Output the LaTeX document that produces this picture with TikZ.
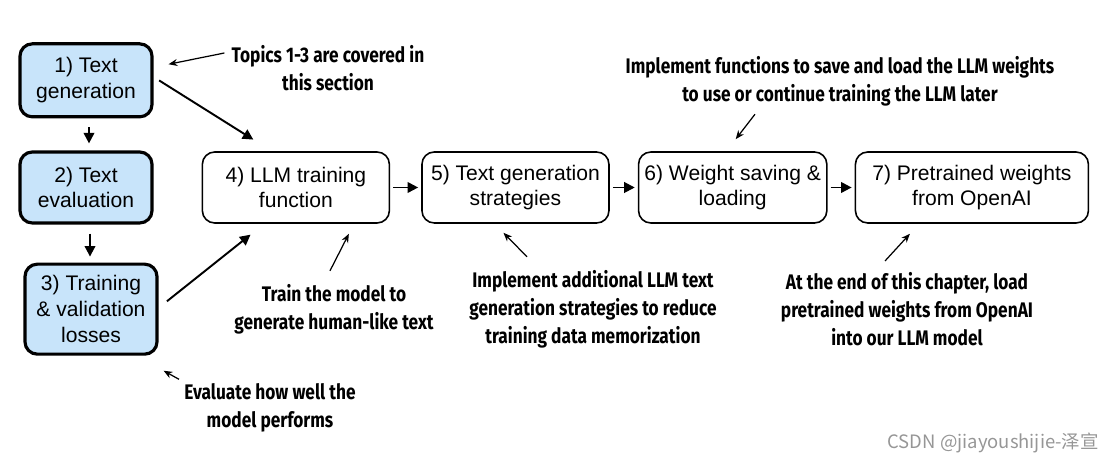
\documentclass[tikz,border=0pt]{standalone}
\usepackage{fontspec}
\setmainfont{Liberation Sans}
\newfontfamily\notefont[FakeStretch=0.82]{Fira Sans}
\newfontfamily\cjk{Noto Sans CJK SC}
\usepackage{xcolor}
\usetikzlibrary{arrows.meta,shapes,positioning}

\definecolor{topicblue}{RGB}{200,228,250}
\definecolor{markgray}{RGB}{150,150,150}

\begin{document}
\begin{tikzpicture}[
  > = {Triangle[length=6pt,width=6pt]},
  topic/.style = {rectangle, draw, line width=1.8pt, fill=topicblue,
                  rounded corners=7pt, align=center, minimum width=2.64cm,
                  font=\fontsize{12}{14.7}\selectfont},
  task/.style  = {rectangle, draw, line width=0.9pt, rounded corners=7pt,
                  align=center, minimum width=3.74cm, minimum height=1.42cm,
                  font=\fontsize{12}{14.7}\selectfont},
  note/.style  = {align=center, inner sep=0pt,
                  font=\notefont\bfseries\fontsize{12}{15.9}\selectfont},
  flow/.style  = {->, line width=1.1pt, shorten <=0.06cm, shorten >=0.06cm},
  pointer/.style = {->, line width=0.7pt,
                    >={Stealth[length=5pt,width=4pt]}}
]
\useasboundingbox (0,0) rectangle (22.4,-9.28);

% ───────── topics of this section ─────────
\node[topic, minimum height=1.42cm] (eval) at (1.72,-3.75) {2) Text\\evaluation};
\node[topic, minimum height=1.46cm, above=0.64cm of eval] (gen) {1) Text\\generation};
\node[topic, minimum height=1.80cm, below=0.76cm of eval, xshift=0.1cm] (loss)
  {3) Training\\\& validation\\losses};

% ───────── main row ─────────
\node[task, right=0.96cm of eval]   (train)   {4) LLM training\\function};
\node[task, right=0.62cm of train]  (strat)   {5) Text generation\\strategies};
\node[task, right=0.56cm of strat]  (save)    {6) Weight saving \&\\loading};
\node[task, right=0.54cm of save, minimum width=4.66cm] (openai)
  {7) Pretrained weights\\from OpenAI};

% ───────── notes ─────────
\node[note] (topics)  at (6.56,-1.36) {Topics 1-3 are covered in\\this section};
\node[note] (human)   at (6.68,-6.18) {Train the model to\\generate human-like text};
\node[note] (perform) at (5.40,-8.16) {Evaluate how well the\\model performs};
\node[note] (memo)    at (11.86,-6.18) {Implement additional LLM text\\generation strategies to reduce\\training data memorization};
\node[note] (later)   at (16.80,-1.62) {Implement functions to save and load the LLM weights\\to use or continue training the LLM later};
\node[note] (load)    at (18.14,-6.18) {At the end of this chapter, load\\pretrained weights from OpenAI\\into our LLM model};

\node[anchor=east, text=markgray, font=\cjk\fontsize{10.5}{12}\selectfont]
  (mark) at (22.1,-8.86) {CSDN @jiayoushijie-泽宣};

% ───────── arrows ──────────
\draw[flow, shorten <=0.18cm, shorten >=0.14cm] ([xshift=0.06cm]gen.south) -- ([xshift=0.06cm]gen.south |- eval.north);
\draw[flow, shorten <=0.18cm, shorten >=0.12cm] ([xshift=0.08cm]eval.south) -- ([xshift=0.08cm]eval.south |- loss.north);

\draw[flow] ([shift={(0.06,0.03)}]gen.east) -- ([shift={(-0.8,0.2)}]train.north);
\draw[flow] ([shift={(0.12,0.12)}]loss.east) -- ([shift={(-0.86,-0.18)}]train.south);

\draw[flow] (train) -- (strat);
\draw[flow] (strat) -- (save);
\draw[flow] (save)  -- (openai);

\draw[pointer] ([shift={(-0.14,0.3)}]topics.west) -- ([shift={(0.3,-0.44)}]gen.north east);
\draw[pointer] ([shift={(-0.08,0.26)}]human.north) -- ([shift={(1.06,-0.2)}]train.south);
\draw[pointer] ([shift={(-0.1,0.08)}]perform.north west) -- ([shift={(0.1,-0.3)}]loss.south east);
\draw[pointer] ([shift={(-1.32,0.26)}]memo.north) -- ([shift={(-0.24,-0.18)}]strat.south);
\draw[pointer] ([shift={(-1.7,-0.16)}]later.south) -- ([shift={(0.06,0.24)}]save.north);
\draw[pointer] ([shift={(-0.44,0.22)}]load.north) -- ([shift={(-1.24,-0.2)}]openai.south);

\end{tikzpicture}
\end{document}
